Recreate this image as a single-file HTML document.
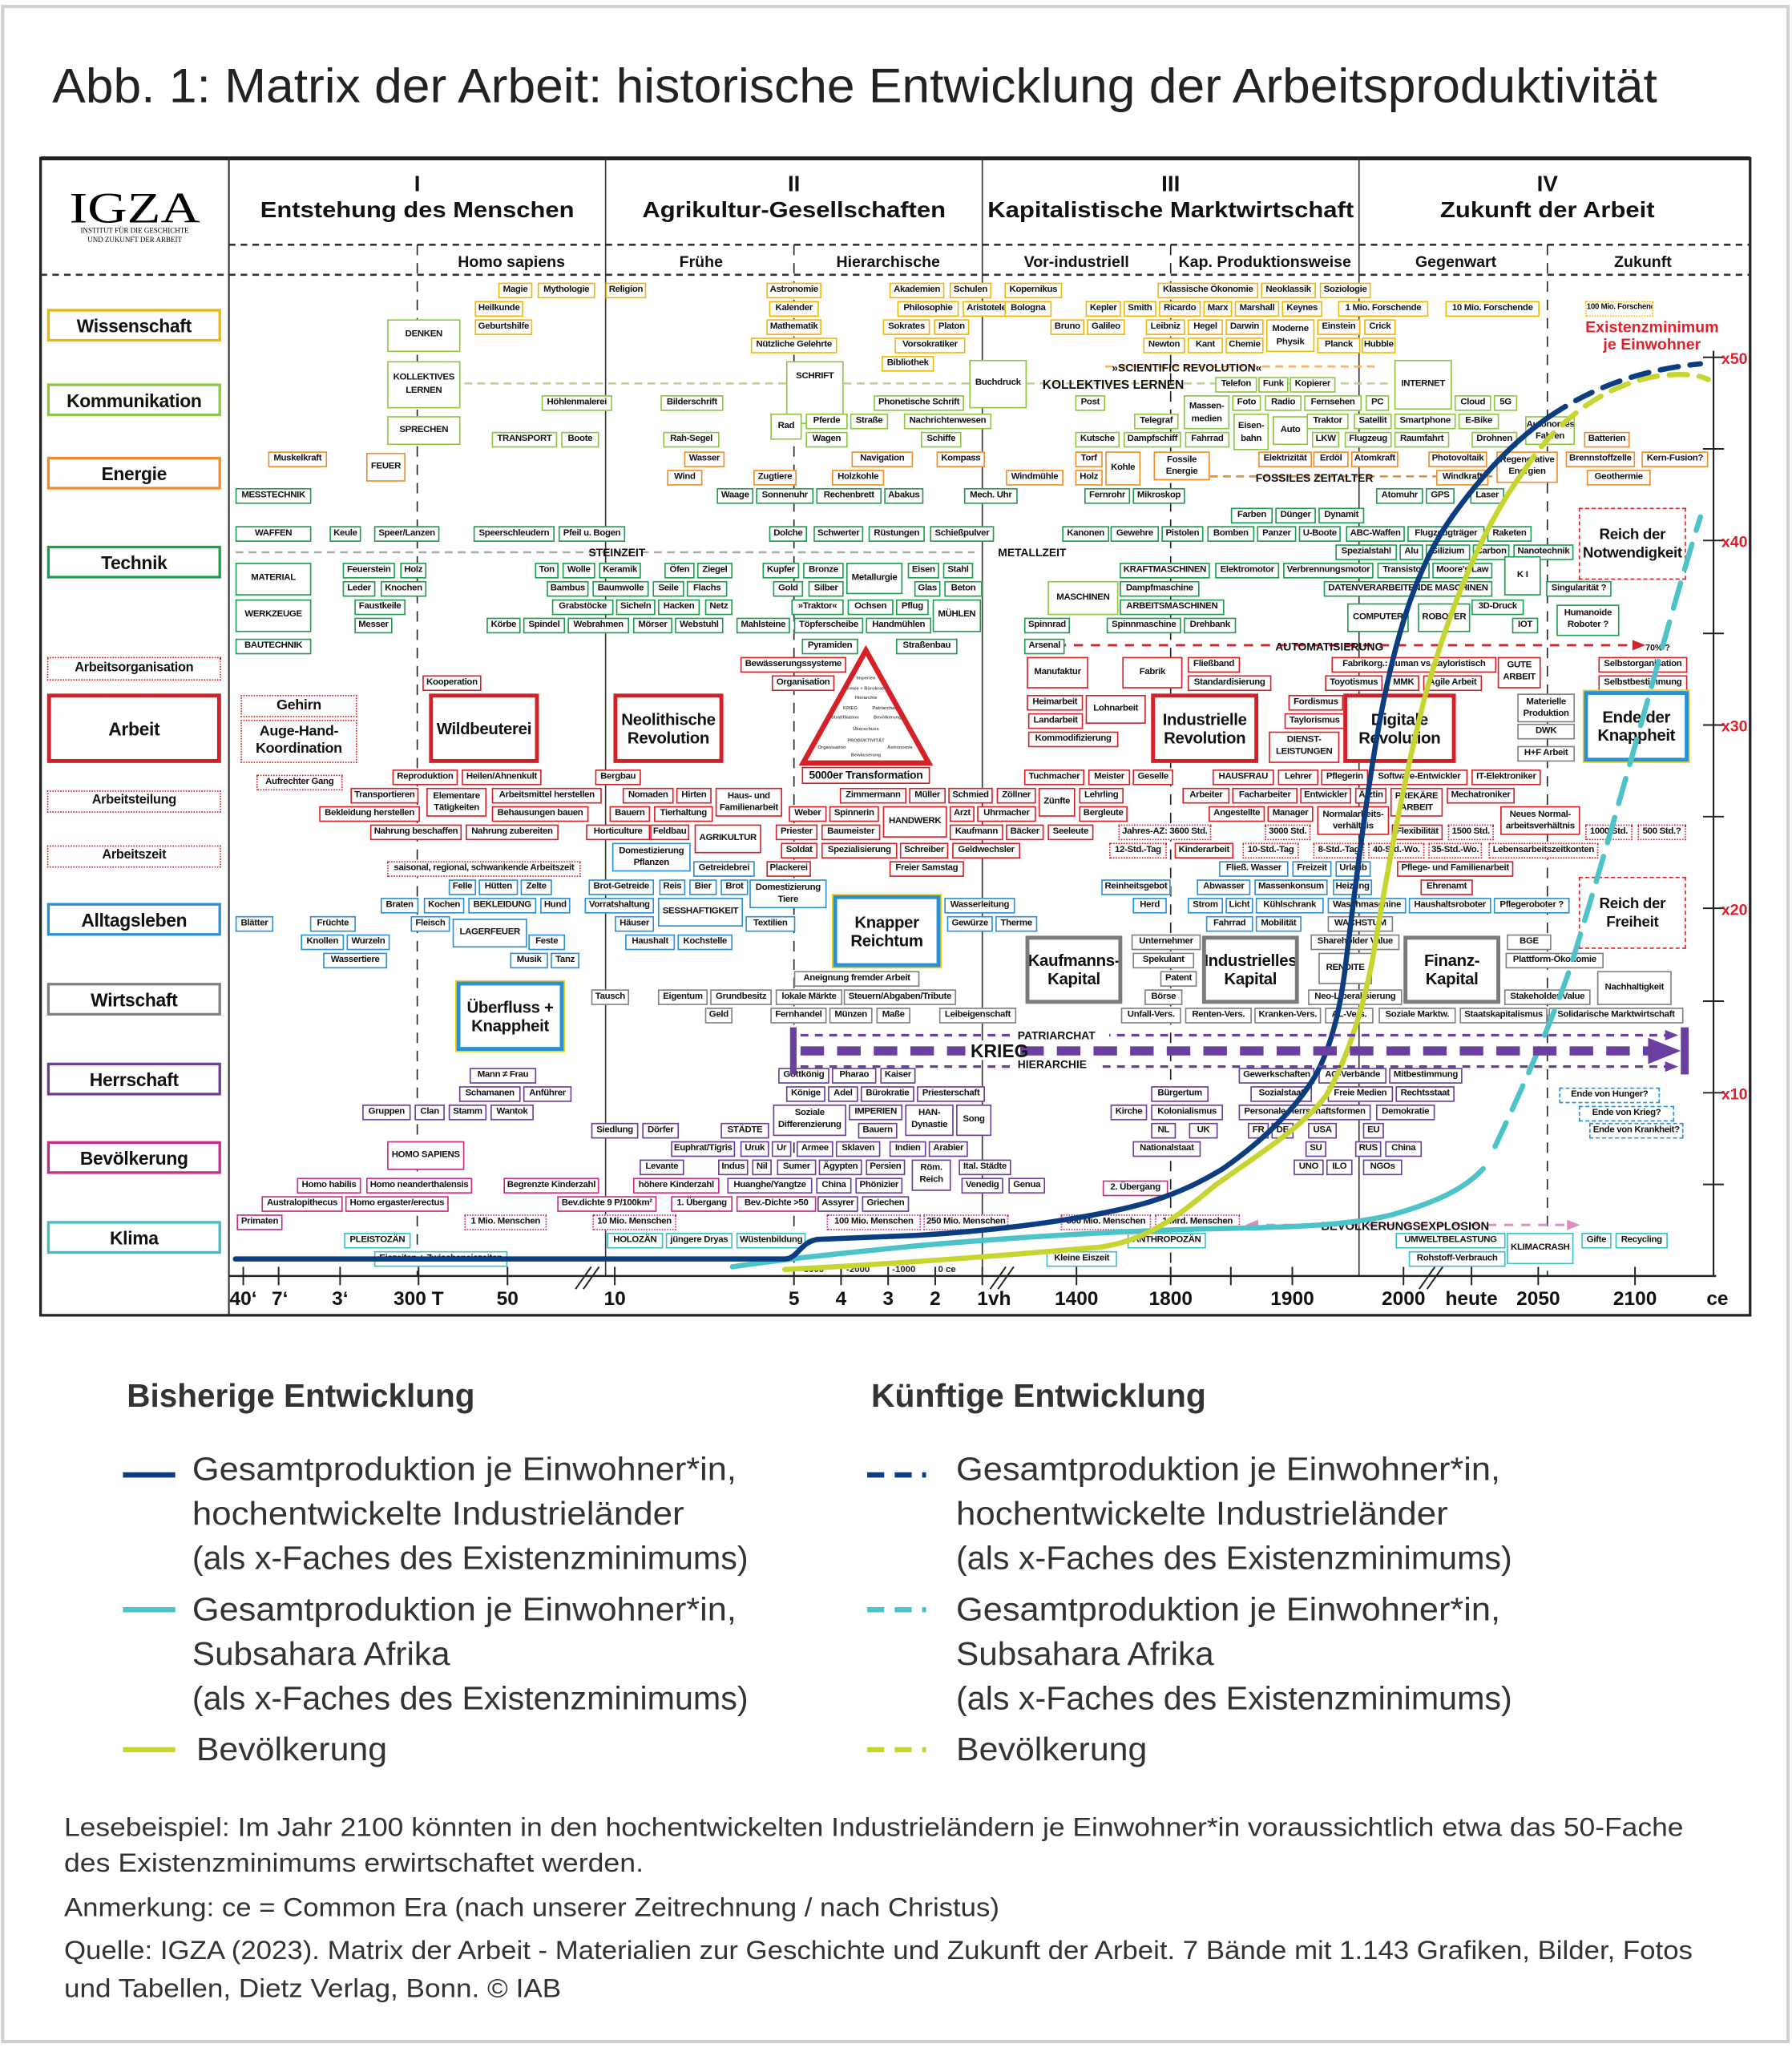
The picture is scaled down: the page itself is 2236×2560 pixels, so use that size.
<!DOCTYPE html>
<html><head><meta charset="utf-8">
<style>
html,body{margin:0;padding:0;background:#fff;}
body{width:2236px;height:2560px;overflow:hidden;position:relative;}
#s{position:absolute;left:0;top:0;width:1370px;height:1568px;transform:scale(1.6321,1.6327);transform-origin:0 0;font-family:"Liberation Sans",Arial,sans-serif;}
#s>svg{position:absolute;left:0;top:0;}
b{position:absolute;display:block;height:12px;box-sizing:border-box;border:1.3px solid #888;background:#fff;font:bold 7px/9.6px "Liberation Sans",Arial,sans-serif;text-align:center;white-space:nowrap;overflow:hidden;color:#111;letter-spacing:-0.2px;}
b.h2{height:22px;line-height:9.6px;padding-top:0.5px;}
b.h3{height:25px;line-height:22.5px;}
.o{border-color:#f2b705!important}.g{border-color:#8dc63f!important}.e{border-color:#f28c28!important}
.t{border-color:#1b9e4b!important}.r{border-color:#d62027!important}.b{border-color:#2b8fd6!important}
.w{border-color:#808080!important}.p{border-color:#6a3d9a!important}.m{border-color:#c72a84!important}
.k{border-color:#3dbfc5!important}.d{border-style:dotted!important}.x{border-style:dashed!important}
b.cat{font-size:14px;height:25px;line-height:22px;border-width:2px;left:36px;width:133px;}
b.big{font-size:12.5px;line-height:14px;border-width:3px;display:flex;align-items:center;justify-content:center;white-space:normal;}
b.gr{border-width:3px;border-color:#7a7a7a}
</style></head><body><div id="s">
<svg width="1370" height="1568" viewBox="0 0 1370 1568">
<rect x="2" y="5" width="1365" height="1555" fill="none" stroke="#d0d0d0" stroke-width="2.5"/>
<text x="40" y="78" font-size="37" fill="#222" textLength="1227" lengthAdjust="spacingAndGlyphs">Abb. 1: Matrix der Arbeit: historische Entwicklung der Arbeitsproduktivität</text>
<rect x="31" y="121" width="1307" height="884" fill="none" stroke="#222" stroke-width="2"/>
<line x1="31" y1="121" x2="1338" y2="121" stroke="#222" stroke-width="3"/>
<line x1="175" y1="121" x2="175" y2="1005" stroke="#333" stroke-width="1.3"/>
<g stroke="#333" stroke-width="1"><line x1="463" y1="121" x2="463" y2="975"/><line x1="751" y1="121" x2="751" y2="975"/><line x1="1039" y1="121" x2="1039" y2="975"/></g>
<g stroke="#333" stroke-width="1.6" stroke-dasharray="5 4"><line x1="175" y1="187" x2="1338" y2="187"/><line x1="31" y1="210" x2="1338" y2="210"/></g>
<g stroke="#222" stroke-width="1" stroke-dasharray="8 6"><line x1="319" y1="187" x2="319" y2="975"/><line x1="607" y1="187" x2="607" y2="975"/><line x1="895" y1="187" x2="895" y2="975"/><line x1="1183" y1="187" x2="1183" y2="975"/></g>
<text x="103" y="170" font-family="Liberation Serif" font-size="33" text-anchor="middle" textLength="100" lengthAdjust="spacingAndGlyphs">IGZA</text>
<text x="103" y="178" font-family="Liberation Serif" font-size="5.5" text-anchor="middle">INSTITUT FÜR DIE GESCHICHTE</text>
<text x="103" y="185" font-family="Liberation Serif" font-size="5.5" text-anchor="middle">UND ZUKUNFT DER ARBEIT</text>
<g font-weight="bold" font-size="17" text-anchor="middle" fill="#111">
<text x="319" y="146">I</text><text x="319" y="166" textLength="240" lengthAdjust="spacingAndGlyphs">Entstehung des Menschen</text>
<text x="607" y="146">II</text><text x="607" y="166" textLength="232" lengthAdjust="spacingAndGlyphs">Agrikultur-Gesellschaften</text>
<text x="895" y="146">III</text><text x="895" y="166" textLength="280" lengthAdjust="spacingAndGlyphs">Kapitalistische Marktwirtschaft</text>
<text x="1183" y="146">IV</text><text x="1183" y="166" textLength="164" lengthAdjust="spacingAndGlyphs">Zukunft der Arbeit</text>
</g>
<g font-weight="bold" font-size="12" text-anchor="middle" fill="#111">
<text x="391" y="204">Homo sapiens</text><text x="536" y="204">Frühe</text><text x="679" y="204">Hierarchische</text><text x="823" y="204">Vor-industriell</text><text x="967" y="204">Kap. Produktionsweise</text><text x="1113" y="204">Gegenwart</text><text x="1256" y="204">Zukunft</text>
</g>
<!-- axis -->
<line x1="175" y1="975" x2="1312" y2="975" stroke="#222" stroke-width="1.5"/>
<line x1="1310" y1="268" x2="1310" y2="975" stroke="#222" stroke-width="1.3"/>
<g stroke="#222" stroke-width="1.2">
<line x1="1302" y1="273" x2="1318" y2="273"/><line x1="1302" y1="343" x2="1318" y2="343"/><line x1="1302" y1="413" x2="1318" y2="413"/><line x1="1302" y1="484" x2="1318" y2="484"/><line x1="1302" y1="554" x2="1318" y2="554"/><line x1="1302" y1="624" x2="1318" y2="624"/><line x1="1302" y1="694" x2="1318" y2="694"/><line x1="1302" y1="765" x2="1318" y2="765"/><line x1="1302" y1="835" x2="1318" y2="835"/><line x1="1302" y1="905" x2="1318" y2="905"/>
<line x1="186" y1="968" x2="186" y2="982"/><line x1="213" y1="968" x2="213" y2="982"/><line x1="260" y1="968" x2="260" y2="982"/><line x1="320" y1="968" x2="320" y2="982"/><line x1="388" y1="968" x2="388" y2="982"/><line x1="470" y1="968" x2="470" y2="982"/><line x1="607" y1="968" x2="607" y2="982"/><line x1="643" y1="968" x2="643" y2="982"/><line x1="679" y1="968" x2="679" y2="982"/><line x1="715" y1="968" x2="715" y2="982"/><line x1="751" y1="968" x2="751" y2="982"/><line x1="823" y1="968" x2="823" y2="982"/><line x1="895" y1="968" x2="895" y2="982"/><line x1="941" y1="968" x2="941" y2="982"/><line x1="988" y1="968" x2="988" y2="982"/><line x1="1073" y1="968" x2="1073" y2="982"/><line x1="1125" y1="968" x2="1125" y2="982"/><line x1="1176" y1="968" x2="1176" y2="982"/><line x1="1250" y1="968" x2="1250" y2="982"/>
<line x1="440" y1="985" x2="452" y2="968"/><line x1="446" y1="985" x2="458" y2="968"/><line x1="757" y1="985" x2="769" y2="968"/><line x1="763" y1="985" x2="775" y2="968"/><line x1="1085" y1="985" x2="1097" y2="968"/><line x1="1091" y1="985" x2="1103" y2="968"/>
</g>
<g font-weight="bold" font-size="15" text-anchor="middle" fill="#111">
<text x="186" y="997">40‘</text><text x="214" y="997">7‘</text><text x="260" y="997">3‘</text><text x="320" y="997">300 T</text><text x="388" y="997">50</text><text x="470" y="997">10</text><text x="607" y="997">5</text><text x="643" y="997">4</text><text x="679" y="997">3</text><text x="715" y="997">2</text><text x="760" y="997">1vh</text><text x="823" y="997">1400</text><text x="895" y="997">1800</text><text x="988" y="997">1900</text><text x="1073" y="997">2000</text><text x="1125" y="997">heute</text><text x="1176" y="997">2050</text><text x="1250" y="997">2100</text><text x="1313" y="997">ce</text>
</g>
<g font-weight="bold" font-size="7" fill="#222" text-anchor="middle"><text x="621" y="972">-3000</text><text x="656" y="972">-2000</text><text x="691" y="972">-1000</text><text x="724" y="972">0 ce</text></g>
<g font-weight="bold" font-size="12" fill="#e0202a"><text x="1316" y="278">x50</text><text x="1316" y="418">x40</text><text x="1316" y="559">x30</text><text x="1316" y="699">x20</text><text x="1316" y="840">x10</text></g>
<g font-weight="bold" font-size="12" fill="#e0202a" text-anchor="middle"><text x="1263" y="254">Existenzminimum</text><text x="1263" y="267">je Einwohner</text></g>
<!-- dashed guide lines -->
<line x1="355" y1="293" x2="1062" y2="293" stroke="#b5d68a" stroke-width="1.6" stroke-dasharray="6 4"/>
<line x1="180" y1="422" x2="745" y2="422" stroke="#aaa" stroke-width="1.6" stroke-dasharray="6 4"/>
<line x1="845" y1="280" x2="1055" y2="280" stroke="#f7b267" stroke-width="1.6" stroke-dasharray="6 4"/>
<line x1="925" y1="364" x2="1175" y2="364" stroke="#f28c28" stroke-width="1.6" stroke-dasharray="6 4"/>
<line x1="795" y1="493" x2="1255" y2="493" stroke="#d62027" stroke-width="1.8" stroke-dasharray="7 6"/>
<polygon points="793,493 803,489 803,497" fill="#d62027"/><polygon points="1258,493 1248,489 1248,497" fill="#d62027"/>
<line x1="955" y1="936" x2="1205" y2="936" stroke="#e08cc0" stroke-width="1.8" stroke-dasharray="7 6"/>
<polygon points="952,936 962,932 962,940" fill="#e08cc0"/><polygon points="1208,936 1198,932 1198,940" fill="#e08cc0"/>
<g font-weight="bold" fill="#111" font-size="9">
<text x="797" y="297" font-size="9.5">KOLLEKTIVES LERNEN</text>
<text x="850" y="284" font-size="8.5">»SCIENTIFIC REVOLUTION«</text>
<text x="960" y="368" font-size="8.5">FOSSILES ZEITALTER</text>
<text x="450" y="425" font-size="8.5">STEINZEIT</text>
<text x="763" y="425" font-size="8.5">METALLZEIT</text>
<text x="975" y="497" font-size="8.5">AUTOMATISIERUNG</text>
<text x="1258" y="497" font-size="6.5">70% ?</text>
<text x="1010" y="940" font-size="9">BEVÖLKERUNGSEXPLOSION</text>
</g>
<!-- triangle -->
<polygon points="662,497 614,583 710,583" fill="#fff" stroke="#d62027" stroke-width="4" stroke-linejoin="miter"/>
<g font-size="3.5" font-weight="bold" fill="#555" text-anchor="middle">
<text x="662" y="519">Imperien</text><text x="662" y="527">Armee + Bürokratie</text><text x="662" y="534">Hierarchie</text><text x="650" y="542">KRIEG</text><text x="676" y="542">Patriarchat</text>
<text x="646" y="549">Stratifikation</text><text x="680" y="549">Bevölkerungs-</text><text x="662" y="558">Überschuss</text><text x="662" y="567">PRODUKTIVITÄT</text><text x="636" y="572">Organisation</text><text x="688" y="572">Astronomie</text><text x="662" y="578">Bewässerung</text>
</g>
<polygon points="623,207 628,207 628,212" fill="none"/>
</svg>

<!-- category labels -->
<b class="cat o" style="top:236px">Wissenschaft</b>
<b class="cat g" style="top:293px">Kommunikation</b>
<b class="cat e" style="top:349px">Energie</b>
<b class="cat t" style="top:417px">Technik</b>
<b class="r d" style="left:36px;top:502px;width:133px;height:18px;line-height:15px;font-size:10px">Arbeitsorganisation</b>
<b class="cat r" style="top:530px;height:53px;line-height:49px;border-width:3px;">Arbeit</b>
<b class="r d" style="left:36px;top:604px;width:133px;height:17px;line-height:14px;font-size:10px">Arbeitsteilung</b>
<b class="r d" style="left:36px;top:646px;width:133px;height:17px;line-height:14px;font-size:10px">Arbeitszeit</b>
<b class="cat b" style="top:690px">Alltagsleben</b>
<b class="cat w" style="top:751px">Wirtschaft</b>
<b class="cat p" style="top:812px">Herrschaft</b>
<b class="cat m" style="top:872px">Bevölkerung</b>
<b class="cat k" style="top:933px">Klima</b>

<!-- Wissenschaft -->
<b class="o" style="left:381px;top:216px;width:26px">Magie</b><b class="o" style="left:411px;top:216px;width:44px">Mythologie</b><b class="o" style="left:463px;top:216px;width:31px">Religion</b><b class="o" style="left:586px;top:216px;width:42px">Astronomie</b><b class="o" style="left:680px;top:216px;width:42px">Akademien</b><b class="o" style="left:726px;top:216px;width:32px">Schulen</b><b class="o" style="left:768px;top:216px;width:44px">Kopernikus</b><b class="o" style="left:885px;top:216px;width:77px">Klassische Ökonomie</b><b class="o" style="left:964px;top:216px;width:42px">Neoklassik</b><b class="o" style="left:1009px;top:216px;width:39px">Soziologie</b>
<b class="o" style="left:363px;top:230px;width:37px">Heilkunde</b><b class="o" style="left:588px;top:230px;width:38px">Kalender</b><b class="o" style="left:686px;top:230px;width:47px">Philosophie</b><b class="o" style="left:736px;top:230px;width:40px">Aristoteles</b><b class="o" style="left:768px;top:230px;width:36px">Bologna</b><b class="o" style="left:830px;top:230px;width:27px">Kepler</b><b class="o" style="left:859px;top:230px;width:25px">Smith</b><b class="o" style="left:886px;top:230px;width:32px">Ricardo</b><b class="o" style="left:920px;top:230px;width:22px">Marx</b><b class="o" style="left:944px;top:230px;width:34px">Marshall</b><b class="o" style="left:980px;top:230px;width:31px">Keynes</b><b class="o" style="left:1023px;top:230px;width:69px">1 Mio. Forschende</b><b class="o" style="left:1105px;top:230px;width:72px">10 Mio. Forschende</b><b class="o d" style="left:1212px;top:230px;width:52px;font-size:6px">100 Mio. Forschende</b>
<b class="o" style="left:363px;top:244px;width:44px">Geburtshilfe</b><b class="o" style="left:586px;top:244px;width:42px">Mathematik</b><b class="o" style="left:675px;top:244px;width:36px">Sokrates</b><b class="o" style="left:714px;top:244px;width:27px">Platon</b><b class="o" style="left:803px;top:244px;width:26px">Bruno</b><b class="o" style="left:831px;top:244px;width:29px">Galileo</b><b class="o" style="left:876px;top:244px;width:30px">Leibniz</b><b class="o" style="left:908px;top:244px;width:27px">Hegel</b><b class="o" style="left:937px;top:244px;width:29px">Darwin</b><b class="o h2" style="left:968px;top:244px;width:37px;height:25px;padding-top:2px">Moderne<br>Physik</b><b class="o" style="left:1007px;top:244px;width:33px">Einstein</b><b class="o" style="left:1043px;top:244px;width:24px">Crick</b>
<b class="o" style="left:574px;top:258px;width:66px">Nützliche Gelehrte</b><b class="o" style="left:684px;top:258px;width:54px">Vorsokratiker</b><b class="o" style="left:874px;top:258px;width:32px">Newton</b><b class="o" style="left:908px;top:258px;width:27px">Kant</b><b class="o" style="left:937px;top:258px;width:29px">Chemie</b><b class="o" style="left:1007px;top:258px;width:33px">Planck</b><b class="o" style="left:1041px;top:258px;width:26px">Hubble</b>
<b class="o" style="left:674px;top:272px;width:40px">Bibliothek</b>

<!-- Kommunikation -->
<b class="g h3" style="left:296px;top:244px;width:56px">DENKEN</b>
<b class="g h2" style="left:296px;top:276px;width:56px;height:36px;padding-top:7px">KOLLEKTIVES<br>LERNEN</b>
<b class="g" style="left:296px;top:318px;width:56px;height:22px;line-height:19px">SPRECHEN</b>
<b class="g" style="left:601px;top:276px;width:44px;height:48px;line-height:22px">SCHRIFT</b>
<b class="g" style="left:741px;top:275px;width:44px;height:37px;line-height:34px">Buchdruck</b>
<b class="g" style="left:1066px;top:275px;width:44px;height:38px;line-height:35px">INTERNET</b>
<b class="g" style="left:929px;top:288px;width:32px">Telefon</b><b class="g" style="left:962px;top:288px;width:23px">Funk</b><b class="g" style="left:986px;top:288px;width:35px">Kopierer</b>
<b class="g" style="left:414px;top:302px;width:54px">Höhlenmalerei</b><b class="g" style="left:505px;top:302px;width:48px">Bilderschrift</b><b class="g" style="left:668px;top:302px;width:69px">Phonetische Schrift</b><b class="g" style="left:822px;top:302px;width:23px">Post</b><b class="g h2" style="left:905px;top:302px;width:35px;height:26px;padding-top:3px">Massen-<br>medien</b><b class="g" style="left:942px;top:302px;width:22px">Foto</b><b class="g" style="left:967px;top:302px;width:28px">Radio</b><b class="g" style="left:997px;top:302px;width:44px">Fernsehen</b><b class="g" style="left:1044px;top:302px;width:18px">PC</b><b class="g" style="left:1112px;top:302px;width:28px">Cloud</b><b class="g" style="left:1142px;top:302px;width:18px">5G</b>
<b class="g" style="left:589px;top:316px;width:24px;height:20px;line-height:17px">Rad</b><b class="g" style="left:616px;top:316px;width:32px">Pferde</b><b class="g" style="left:650px;top:316px;width:29px">Straße</b><b class="g" style="left:691px;top:316px;width:67px">Nachrichtenwesen</b><b class="g" style="left:867px;top:316px;width:34px">Telegraf</b><b class="g h2" style="left:943px;top:316px;width:27px;height:28px;padding-top:4px">Eisen-<br>bahn</b><b class="g" style="left:973px;top:318px;width:27px;height:22px;line-height:19px">Auto</b><b class="g" style="left:999px;top:316px;width:32px">Traktor</b><b class="g" style="left:1035px;top:316px;width:29px">Satellit</b><b class="g" style="left:1066px;top:316px;width:47px">Smartphone</b><b class="g" style="left:1115px;top:316px;width:31px">E-Bike</b><b class="g h2" style="left:1166px;top:318px;width:38px">Autonomes<br>Fahren</b>
<b class="g" style="left:376px;top:330px;width:50px">TRANSPORT</b><b class="g" style="left:429px;top:330px;width:29px">Boote</b><b class="g" style="left:507px;top:330px;width:43px">Rah-Segel</b><b class="g" style="left:616px;top:330px;width:32px">Wagen</b><b class="g" style="left:704px;top:330px;width:31px">Schiffe</b><b class="g" style="left:822px;top:330px;width:34px">Kutsche</b><b class="g" style="left:859px;top:330px;width:44px">Dampfschiff</b><b class="g" style="left:906px;top:330px;width:34px">Fahrrad</b><b class="g" style="left:1003px;top:330px;width:21px">LKW</b><b class="g" style="left:1028px;top:330px;width:36px">Flugzeug</b><b class="g" style="left:1066px;top:330px;width:42px">Raumfahrt</b><b class="g" style="left:1125px;top:330px;width:35px">Drohnen</b>

<!-- Energie -->
<b class="e" style="left:205px;top:345px;width:45px">Muskelkraft</b><b class="e" style="left:280px;top:346px;width:30px;height:22px;line-height:19px">FEUER</b><b class="e" style="left:523px;top:345px;width:31px">Wasser</b><b class="e" style="left:651px;top:345px;width:47px">Navigation</b><b class="e" style="left:716px;top:345px;width:37px">Kompass</b><b class="e" style="left:822px;top:345px;width:21px">Torf</b><b class="e" style="left:845px;top:345px;width:27px;height:26px;line-height:23px">Kohle</b><b class="e h2" style="left:882px;top:345px;width:43px">Fossile<br>Energie</b><b class="e" style="left:962px;top:345px;width:41px">Elektrizität</b><b class="e" style="left:1004px;top:345px;width:27px">Erdöl</b><b class="e" style="left:1033px;top:345px;width:36px">Atomkraft</b><b class="e" style="left:1092px;top:345px;width:45px">Photovoltaik</b><b class="e h2" style="left:1144px;top:345px;width:47px;height:24px">Regenerative<br>Energien</b><b class="e" style="left:1211px;top:330px;width:35px">Batterien</b><b class="e" style="left:1197px;top:345px;width:53px">Brennstoffzelle</b><b class="e" style="left:1255px;top:345px;width:51px">Kern-Fusion?</b>
<b class="e" style="left:510px;top:359px;width:27px">Wind</b><b class="e" style="left:576px;top:359px;width:33px">Zugtiere</b><b class="e" style="left:636px;top:359px;width:40px">Holzkohle</b><b class="e" style="left:769px;top:359px;width:44px">Windmühle</b><b class="e" style="left:822px;top:359px;width:21px">Holz</b><b class="e" style="left:1098px;top:359px;width:40px">Windkraft</b><b class="e" style="left:1213px;top:359px;width:49px">Geothermie</b>

<!-- Technik -->
<b class="t" style="left:180px;top:373px;width:58px">MESSTECHNIK</b><b class="t" style="left:548px;top:373px;width:28px">Waage</b><b class="t" style="left:578px;top:373px;width:44px">Sonnenuhr</b><b class="t" style="left:624px;top:373px;width:50px">Rechenbrett</b><b class="t" style="left:676px;top:373px;width:30px">Abakus</b><b class="t" style="left:737px;top:373px;width:41px">Mech. Uhr</b><b class="t" style="left:829px;top:373px;width:35px">Fernrohr</b><b class="t" style="left:866px;top:373px;width:40px">Mikroskop</b><b class="t" style="left:1052px;top:373px;width:36px">Atomuhr</b><b class="t" style="left:1090px;top:373px;width:22px">GPS</b><b class="t" style="left:1124px;top:373px;width:26px">Laser</b>
<b class="t" style="left:941px;top:388px;width:32px">Farben</b><b class="t" style="left:975px;top:388px;width:31px">Dünger</b><b class="t" style="left:1008px;top:388px;width:35px">Dynamit</b>
<b class="t" style="left:180px;top:402px;width:58px">WAFFEN</b><b class="t" style="left:252px;top:402px;width:24px">Keule</b><b class="t" style="left:286px;top:402px;width:50px">Speer/Lanzen</b><b class="t" style="left:362px;top:402px;width:62px">Speerschleudern</b><b class="t" style="left:427px;top:402px;width:51px">Pfeil u. Bogen</b><b class="t" style="left:588px;top:402px;width:29px">Dolche</b><b class="t" style="left:622px;top:402px;width:38px">Schwerter</b><b class="t" style="left:664px;top:402px;width:43px">Rüstungen</b><b class="t" style="left:711px;top:402px;width:49px">Schießpulver</b><b class="t" style="left:812px;top:402px;width:36px">Kanonen</b><b class="t" style="left:849px;top:402px;width:37px">Gewehre</b><b class="t" style="left:888px;top:402px;width:32px">Pistolen</b><b class="t" style="left:923px;top:402px;width:36px">Bomben</b><b class="t" style="left:961px;top:402px;width:30px">Panzer</b><b class="t" style="left:993px;top:402px;width:32px">U-Boote</b><b class="t" style="left:1029px;top:402px;width:45px">ABC-Waffen</b><b class="t" style="left:1076px;top:402px;width:59px">Flugzeugträger</b><b class="t" style="left:1137px;top:402px;width:34px">Raketen</b>
<b class="t" style="left:1021px;top:416px;width:47px">Spezialstahl</b><b class="t" style="left:1070px;top:416px;width:18px">Alu</b><b class="t" style="left:1090px;top:416px;width:34px">Silizium</b><b class="t" style="left:1126px;top:416px;width:28px">Carbon</b><b class="t" style="left:1157px;top:416px;width:46px">Nanotechnik</b>
<b class="t" style="left:180px;top:430px;width:58px;height:25px;line-height:22px">MATERIAL</b><b class="t" style="left:262px;top:430px;width:40px">Feuerstein</b><b class="t" style="left:306px;top:430px;width:20px">Holz</b><b class="t" style="left:409px;top:430px;width:18px">Ton</b><b class="t" style="left:430px;top:430px;width:25px">Wolle</b><b class="t" style="left:458px;top:430px;width:32px">Keramik</b><b class="t" style="left:508px;top:430px;width:23px">Öfen</b><b class="t" style="left:533px;top:430px;width:27px">Ziegel</b><b class="t" style="left:583px;top:430px;width:28px">Kupfer</b><b class="t" style="left:614px;top:430px;width:31px">Bronze</b><b class="t" style="left:647px;top:430px;width:43px;height:24px;line-height:21px">Metallurgie</b><b class="t" style="left:694px;top:430px;width:24px">Eisen</b><b class="t" style="left:721px;top:430px;width:23px">Stahl</b><b class="t" style="left:856px;top:430px;width:69px">KRAFTMASCHINEN</b><b class="t" style="left:929px;top:430px;width:49px">Elektromotor</b><b class="t" style="left:981px;top:430px;width:69px">Verbrennungsmotor</b><b class="t" style="left:1053px;top:430px;width:40px">Transistor</b><b class="t" style="left:1095px;top:430px;width:46px">Moore's Law</b><b class="t" style="left:1150px;top:425px;width:28px;height:30px;line-height:27px">K I</b>
<b class="t" style="left:262px;top:444px;width:25px">Leder</b><b class="t" style="left:291px;top:444px;width:35px">Knochen</b><b class="t" style="left:418px;top:444px;width:32px">Bambus</b><b class="t" style="left:453px;top:444px;width:43px">Baumwolle</b><b class="t" style="left:499px;top:444px;width:24px">Seile</b><b class="t" style="left:525px;top:444px;width:31px">Flachs</b><b class="t" style="left:591px;top:444px;width:23px">Gold</b><b class="t" style="left:618px;top:444px;width:27px">Silber</b><b class="t" style="left:699px;top:444px;width:20px">Glas</b><b class="t" style="left:722px;top:444px;width:29px">Beton</b><b class="g" style="left:801px;top:444px;width:54px;height:26px;line-height:23px">MASCHINEN</b><b class="t" style="left:856px;top:444px;width:61px">Dampfmaschine</b><b class="t" style="left:1012px;top:444px;width:129px">DATENVERARBEITENDE MASCHINEN</b><b class="t" style="left:1182px;top:444px;width:50px">Singularität ?</b>
<b class="t" style="left:180px;top:458px;width:58px;height:25px;line-height:22px">WERKZEUGE</b><b class="t" style="left:271px;top:458px;width:39px">Faustkeile</b><b class="t" style="left:422px;top:458px;width:47px">Grabstöcke</b><b class="t" style="left:471px;top:458px;width:30px">Sicheln</b><b class="t" style="left:503px;top:458px;width:32px">Hacken</b><b class="t" style="left:539px;top:458px;width:21px">Netz</b><b class="t" style="left:605px;top:458px;width:40px">»Traktor«</b><b class="t" style="left:648px;top:458px;width:35px">Ochsen</b><b class="t" style="left:685px;top:458px;width:25px">Pflug</b><b class="t" style="left:713px;top:458px;width:37px;height:25px;line-height:22px">MÜHLEN</b><b class="t" style="left:856px;top:458px;width:80px">ARBEITSMASCHINEN</b><b class="t" style="left:1125px;top:458px;width:40px">3D-Druck</b>
<b class="t" style="left:271px;top:472px;width:29px">Messer</b><b class="t" style="left:372px;top:472px;width:26px">Körbe</b><b class="t" style="left:400px;top:472px;width:32px">Spindel</b><b class="t" style="left:434px;top:472px;width:47px">Webrahmen</b><b class="t" style="left:484px;top:472px;width:30px">Mörser</b><b class="t" style="left:516px;top:472px;width:37px">Webstuhl</b><b class="t" style="left:563px;top:472px;width:41px">Mahlsteine</b><b class="t" style="left:607px;top:472px;width:53px">Töpferscheibe</b><b class="t" style="left:662px;top:472px;width:50px">Handmühlen</b><b class="t" style="left:783px;top:472px;width:35px">Spinnrad</b><b class="t" style="left:846px;top:472px;width:57px">Spinnmaschine</b><b class="t" style="left:905px;top:472px;width:40px">Drehbank</b><b class="t" style="left:1030px;top:461px;width:47px;height:22px;line-height:19px">COMPUTER</b><b class="t" style="left:1084px;top:461px;width:40px;height:22px;line-height:19px">ROBOTER</b><b class="t" style="left:1156px;top:472px;width:20px">IOT</b><b class="t h2" style="left:1190px;top:462px;width:48px;height:24px">Humanoide<br>Roboter ?</b>
<b class="t" style="left:180px;top:488px;width:58px">BAUTECHNIK</b><b class="t" style="left:613px;top:488px;width:43px">Pyramiden</b><b class="t" style="left:685px;top:488px;width:47px">Straßenbau</b><b class="t" style="left:783px;top:488px;width:31px">Arsenal</b>

<!-- Arbeit -->
<b class="r" style="left:566px;top:502px;width:81px">Bewässerungssysteme</b><b class="r" style="left:908px;top:502px;width:40px">Fließband</b><b class="r" style="left:1018px;top:502px;width:126px">Fabrikorg.: human vs. tayloristisch</b><b class="r h2" style="left:1145px;top:502px;width:33px;height:24px">GUTE<br>ARBEIT</b><b class="r" style="left:1222px;top:502px;width:68px">Selbstorganisation</b>
<b class="r" style="left:785px;top:502px;width:47px;height:24px;line-height:21px">Manufaktur</b><b class="r" style="left:858px;top:502px;width:46px;height:24px;line-height:21px">Fabrik</b>
<b class="r" style="left:323px;top:516px;width:45px">Kooperation</b><b class="r" style="left:590px;top:516px;width:48px">Organisation</b><b class="r" style="left:908px;top:516px;width:64px">Standardisierung</b><b class="r" style="left:1013px;top:516px;width:44px">Toyotismus</b><b class="r" style="left:1061px;top:516px;width:24px">MMK</b><b class="r" style="left:1088px;top:516px;width:45px">Agile Arbeit</b><b class="r" style="left:1222px;top:516px;width:68px">Selbstbestimmung</b>
<b class="r" style="left:785px;top:531px;width:43px">Heimarbeit</b><b class="r" style="left:830px;top:531px;width:46px;height:22px;line-height:19px">Lohnarbeit</b><b class="r" style="left:985px;top:531px;width:42px">Fordismus</b><b class="w h2" style="left:1160px;top:530px;width:44px">Materielle<br>Produktion</b>
<b class="r" style="left:786px;top:545px;width:42px">Landarbeit</b><b class="r" style="left:982px;top:545px;width:46px">Taylorismus</b><b class="w" style="left:1160px;top:553px;width:44px">DWK</b>
<b class="r" style="left:786px;top:559px;width:69px">Kommodifizierung</b><b class="r h2" style="left:970px;top:559px;width:54px;height:24px">DIENST-<br>LEISTUNGEN</b><b class="w" style="left:1160px;top:570px;width:44px">H+F Arbeit</b>
<b class="r d" style="left:196px;top:592px;width:66px">Aufrechter Gang</b>
<b class="r d" style="left:184px;top:531px;width:89px;height:17px;line-height:14px;font-size:11px">Gehirn</b>
<b class="r d h2" style="left:184px;top:550px;width:89px;height:33px;font-size:11px;line-height:13px;padding-top:2px">Auge-Hand-<br>Koordination</b>
<b class="r big" style="left:328px;top:530px;width:84px;height:53px">Wildbeuterei</b>
<b class="r big" style="left:469px;top:530px;width:84px;height:53px">Neolithische Revolution</b>
<b class="r big" style="left:880px;top:530px;width:82px;height:53px">Industrielle Revolution</b>
<b class="r big" style="left:1027px;top:530px;width:86px;height:53px">Digitale Revolution</b>
<b class="b big" style="left:1211px;top:528px;width:80px;height:54px;outline:1.5px solid #f2d300">Ende der Knappheit</b>
<b class="r" style="left:613px;top:586px;width:98px;height:13px;font-size:8.5px;line-height:10px">5000er Transformation</b>
<b class="r" style="left:300px;top:588px;width:50px">Reproduktion</b><b class="r" style="left:353px;top:588px;width:61px">Heilen/Ahnenkult</b><b class="r" style="left:455px;top:588px;width:35px">Bergbau</b><b class="r" style="left:783px;top:588px;width:46px">Tuchmacher</b><b class="r" style="left:832px;top:588px;width:32px">Meister</b><b class="r" style="left:866px;top:588px;width:31px">Geselle</b><b class="r" style="left:927px;top:588px;width:47px">HAUSFRAU</b><b class="r" style="left:977px;top:588px;width:31px">Lehrer</b><b class="r" style="left:1010px;top:588px;width:36px">Pflegerin</b><b class="r" style="left:1048px;top:588px;width:74px">Software-Entwickler</b><b class="r" style="left:1125px;top:588px;width:53px">IT-Elektroniker</b>
<b class="r" style="left:268px;top:602px;width:52px">Transportieren</b><b class="r h2" style="left:326px;top:602px;width:46px">Elementare<br>Tätigkeiten</b><b class="r" style="left:376px;top:602px;width:84px">Arbeitsmittel herstellen</b><b class="r" style="left:476px;top:602px;width:39px">Nomaden</b><b class="r" style="left:517px;top:602px;width:27px">Hirten</b><b class="r h2" style="left:547px;top:602px;width:51px">Haus- und<br>Familienarbeit</b><b class="r" style="left:642px;top:602px;width:51px">Zimmermann</b><b class="r" style="left:695px;top:602px;width:28px">Müller</b><b class="r" style="left:725px;top:602px;width:34px">Schmied</b><b class="r" style="left:762px;top:602px;width:30px">Zöllner</b><b class="r" style="left:794px;top:602px;width:28px;height:22px;line-height:19px">Zünfte</b><b class="r" style="left:825px;top:602px;width:34px">Lehrling</b><b class="r" style="left:904px;top:602px;width:36px">Arbeiter</b><b class="r" style="left:942px;top:602px;width:50px">Facharbeiter</b><b class="r" style="left:994px;top:602px;width:39px">Entwickler</b><b class="r" style="left:1036px;top:602px;width:24px">Ärztin</b><b class="r h2" style="left:1063px;top:602px;width:40px">PREKÄRE<br>ARBEIT</b><b class="r" style="left:1106px;top:602px;width:52px">Mechatroniker</b>
<b class="r" style="left:244px;top:616px;width:77px">Bekleidung herstellen</b><b class="r" style="left:376px;top:616px;width:74px">Behausungen bauen</b><b class="r" style="left:466px;top:616px;width:31px">Bauern</b><b class="r" style="left:500px;top:616px;width:45px">Tierhaltung</b><b class="r" style="left:603px;top:616px;width:29px">Weber</b><b class="r" style="left:634px;top:616px;width:38px">Spinnerin</b><b class="r" style="left:675px;top:616px;width:49px;height:24px;line-height:21px">HANDWERK</b><b class="r" style="left:726px;top:616px;width:19px">Arzt</b><b class="r" style="left:747px;top:616px;width:45px">Uhrmacher</b><b class="r" style="left:825px;top:616px;width:37px">Bergleute</b><b class="r" style="left:924px;top:616px;width:43px">Angestellte</b><b class="r" style="left:969px;top:616px;width:35px">Manager</b><b class="r h2" style="left:1007px;top:616px;width:55px">Normalarbeits-<br>verhältnis</b><b class="r h2" style="left:1147px;top:616px;width:61px">Neues Normal-<br>arbeitsverhältnis</b>
<b class="r" style="left:283px;top:630px;width:70px">Nahrung beschaffen</b><b class="r" style="left:356px;top:630px;width:71px">Nahrung zubereiten</b><b class="r" style="left:448px;top:630px;width:49px">Horticulture</b><b class="r" style="left:497px;top:630px;width:30px">Feldbau</b><b class="r" style="left:531px;top:630px;width:51px;height:22px;line-height:19px">AGRIKULTUR</b><b class="r" style="left:593px;top:630px;width:32px">Priester</b><b class="r" style="left:628px;top:630px;width:45px">Baumeister</b><b class="r" style="left:726px;top:630px;width:41px">Kaufmann</b><b class="r" style="left:769px;top:630px;width:29px">Bäcker</b><b class="r" style="left:801px;top:630px;width:35px">Seeleute</b><b class="r d" style="left:855px;top:630px;width:71px">Jahres-AZ: 3600 Std.</b><b class="r d" style="left:967px;top:630px;width:35px">3000 Std.</b><b class="r" style="left:1064px;top:630px;width:39px">Flexibilität</b><b class="r d" style="left:1107px;top:630px;width:35px">1500 Std.</b><b class="r d" style="left:1212px;top:630px;width:36px">1000 Std.</b><b class="r d" style="left:1252px;top:630px;width:37px">500 Std.?</b>
<b class="b h2" style="left:468px;top:644px;width:60px">Domestizierung<br>Pflanzen</b><b class="r" style="left:597px;top:644px;width:28px">Soldat</b><b class="r" style="left:628px;top:644px;width:58px">Spezialisierung</b><b class="r" style="left:688px;top:644px;width:37px">Schreiber</b><b class="r" style="left:728px;top:644px;width:52px">Geldwechsler</b><b class="r d" style="left:848px;top:644px;width:44px">12-Std.-Tag</b><b class="r" style="left:898px;top:644px;width:45px">Kinderarbeit</b><b class="r d" style="left:950px;top:644px;width:43px">10-Std.-Tag</b><b class="r d" style="left:1004px;top:644px;width:39px">8-Std.-Tag</b><b class="r d" style="left:1046px;top:644px;width:43px">40-Std.-Wo.</b><b class="r d" style="left:1092px;top:644px;width:41px">35-Std.-Wo.</b><b class="r d" style="left:1138px;top:644px;width:84px">Lebensarbeitszeitkonten</b>
<b class="r d" style="left:296px;top:658px;width:148px">saisonal, regional, schwankende Arbeitszeit</b><b class="b" style="left:530px;top:658px;width:47px">Getreidebrei</b><b class="r" style="left:586px;top:658px;width:34px">Plackerei</b><b class="r" style="left:680px;top:658px;width:57px">Freier Samstag</b><b class="b" style="left:932px;top:658px;width:53px">Fließ. Wasser</b><b class="b" style="left:988px;top:658px;width:30px">Freizeit</b><b class="b" style="left:1021px;top:658px;width:27px">Urlaub</b><b class="r" style="left:1068px;top:658px;width:89px">Pflege- und Familienarbeit</b>

<!-- Alltagsleben -->
<b class="b" style="left:343px;top:672px;width:21px">Felle</b><b class="b" style="left:366px;top:672px;width:30px">Hütten</b><b class="b" style="left:398px;top:672px;width:24px">Zelte</b><b class="b" style="left:450px;top:672px;width:50px">Brot-Getreide</b><b class="b" style="left:504px;top:672px;width:20px">Reis</b><b class="b" style="left:527px;top:672px;width:21px">Bier</b><b class="b" style="left:551px;top:672px;width:21px">Brot</b><b class="b h2" style="left:573px;top:672px;width:59px">Domestizierung<br>Tiere</b><b class="b" style="left:842px;top:672px;width:53px">Reinheitsgebot</b><b class="b" style="left:915px;top:672px;width:41px">Abwasser</b><b class="b" style="left:959px;top:672px;width:56px">Massenkonsum</b><b class="b" style="left:1019px;top:672px;width:30px">Heizung</b><b class="r" style="left:1086px;top:672px;width:40px">Ehrenamt</b>
<b class="b" style="left:291px;top:686px;width:29px">Braten</b><b class="b" style="left:324px;top:686px;width:31px">Kochen</b><b class="b" style="left:358px;top:686px;width:52px">BEKLEIDUNG</b><b class="b" style="left:413px;top:686px;width:23px">Hund</b><b class="b" style="left:447px;top:686px;width:53px">Vorratshaltung</b><b class="b" style="left:503px;top:686px;width:65px;height:22px;line-height:19px">SESSHAFTIGKEIT</b><b class="b" style="left:722px;top:686px;width:54px">Wasserleitung</b><b class="b" style="left:866px;top:686px;width:26px">Herd</b><b class="b" style="left:908px;top:686px;width:27px">Strom</b><b class="b" style="left:937px;top:686px;width:21px">Licht</b><b class="b" style="left:960px;top:686px;width:52px">Kühlschrank</b><b class="b" style="left:1015px;top:686px;width:60px">Waschmaschine</b><b class="b" style="left:1077px;top:686px;width:63px">Haushaltsroboter</b><b class="b" style="left:1142px;top:686px;width:58px">Pflegeroboter ?</b>
<b class="b" style="left:180px;top:700px;width:29px">Blätter</b><b class="b" style="left:237px;top:700px;width:35px">Früchte</b><b class="b" style="left:314px;top:700px;width:30px">Fleisch</b><b class="b" style="left:346px;top:702px;width:57px;height:22px;line-height:19px">LAGERFEUER</b><b class="b" style="left:470px;top:700px;width:30px">Häuser</b><b class="b" style="left:570px;top:700px;width:38px">Textilien</b><b class="b" style="left:724px;top:700px;width:35px">Gewürze</b><b class="b" style="left:761px;top:700px;width:32px">Therme</b><b class="b" style="left:922px;top:700px;width:36px">Fahrrad</b><b class="b" style="left:960px;top:700px;width:35px">Mobilität</b><b class="w" style="left:1015px;top:700px;width:50px">WACHSTUM</b>
<b class="b" style="left:230px;top:714px;width:33px">Knollen</b><b class="b" style="left:265px;top:714px;width:33px">Wurzeln</b><b class="b" style="left:404px;top:714px;width:28px">Feste</b><b class="b" style="left:478px;top:714px;width:38px">Haushalt</b><b class="b" style="left:518px;top:714px;width:42px">Kochstelle</b><b class="w" style="left:865px;top:714px;width:53px">Unternehmer</b><b class="w" style="left:1002px;top:714px;width:68px">Shareholder Value</b><b class="w" style="left:1152px;top:714px;width:34px">BGE</b>
<b class="b" style="left:247px;top:728px;width:49px">Wassertiere</b><b class="b" style="left:390px;top:728px;width:29px">Musik</b><b class="b" style="left:421px;top:728px;width:22px">Tanz</b><b class="w" style="left:866px;top:728px;width:47px">Spekulant</b><b class="w" style="left:1008px;top:728px;width:41px;height:24px;line-height:21px">RENDITE</b><b class="w" style="left:1151px;top:728px;width:75px">Plattform-Ökonomie</b>
<b class="b big" style="left:637px;top:684px;width:82px;height:55px;outline:1.5px solid #f2d300">Knapper Reichtum</b>
<b class="b big" style="left:349px;top:750px;width:82px;height:53px;outline:1.5px solid #f2d300">Überfluss + Knappheit</b>
<b class="r x big" style="left:1207px;top:388px;width:82px;height:55px;border-width:1.5px;font-size:11.5px">Reich der Notwendigkeit</b>
<b class="r x big" style="left:1207px;top:670px;width:82px;height:55px;border-width:1.5px;font-size:11.5px">Reich der Freiheit</b>

<!-- Wirtschaft -->
<b class="gr big" style="left:784px;top:715px;width:74px;height:52px">Kaufmanns-Kapital</b>
<b class="gr big" style="left:919px;top:715px;width:74px;height:52px">Industrielles Kapital</b>
<b class="gr big" style="left:1073px;top:715px;width:74px;height:52px">Finanz-Kapital</b>
<b class="w" style="left:607px;top:742px;width:96px">Aneignung fremder Arbeit</b><b class="w" style="left:887px;top:742px;width:28px">Patent</b><b class="w" style="left:1221px;top:742px;width:57px;height:26px;line-height:23px">Nachhaltigkeit</b>
<b class="w" style="left:452px;top:756px;width:29px">Tausch</b><b class="w" style="left:503px;top:756px;width:38px">Eigentum</b><b class="w" style="left:543px;top:756px;width:47px">Grundbesitz</b><b class="w" style="left:593px;top:756px;width:51px">lokale Märkte</b><b class="w" style="left:645px;top:756px;width:86px">Steuern/Abgaben/Tribute</b><b class="w" style="left:875px;top:756px;width:29px">Börse</b><b class="w" style="left:1000px;top:756px;width:72px">Neo-Liberalisierung</b><b class="w" style="left:1150px;top:756px;width:66px">Stakeholder Value</b>
<b class="w" style="left:539px;top:770px;width:21px">Geld</b><b class="w" style="left:589px;top:770px;width:43px">Fernhandel</b><b class="w" style="left:634px;top:770px;width:33px">Münzen</b><b class="w" style="left:670px;top:770px;width:26px">Maße</b><b class="w" style="left:718px;top:770px;width:59px">Leibeigenschaft</b><b class="w" style="left:857px;top:770px;width:46px">Unfall-Vers.</b><b class="w" style="left:906px;top:770px;width:51px">Renten-Vers.</b><b class="w" style="left:959px;top:770px;width:51px">Kranken-Vers.</b><b class="w" style="left:1013px;top:770px;width:37px">AL-Vers.</b><b class="w" style="left:1054px;top:770px;width:59px">Soziale Marktw.</b><b class="w" style="left:1116px;top:770px;width:67px">Staatskapitalismus</b><b class="w" style="left:1184px;top:770px;width:103px">Solidarische Marktwirtschaft</b>

<!-- Herrschaft -->
<b class="p" style="left:359px;top:816px;width:51px">Mann ≠ Frau</b><b class="p" style="left:595px;top:816px;width:39px">Gottkönig</b><b class="p" style="left:636px;top:816px;width:34px">Pharao</b><b class="p" style="left:673px;top:816px;width:27px">Kaiser</b><b class="p" style="left:947px;top:816px;width:58px">Gewerkschaften</b><b class="p" style="left:1008px;top:816px;width:52px">AG-Verbände</b><b class="p" style="left:1062px;top:816px;width:56px">Mitbestimmung</b>
<b class="p" style="left:351px;top:830px;width:47px">Schamanen</b><b class="p" style="left:400px;top:830px;width:37px">Anführer</b><b class="p" style="left:601px;top:830px;width:30px">Könige</b><b class="p" style="left:633px;top:830px;width:23px">Adel</b><b class="p" style="left:658px;top:830px;width:41px">Bürokratie</b><b class="p" style="left:701px;top:830px;width:52px">Priesterschaft</b><b class="p" style="left:880px;top:830px;width:44px">Bürgertum</b><b class="p" style="left:956px;top:830px;width:47px">Sozialstaat</b><b class="p" style="left:1015px;top:830px;width:50px">Freie Medien</b><b class="p" style="left:1067px;top:830px;width:45px">Rechtsstaat</b>
<b class="x" style="left:1192px;top:831px;width:77px;border-color:#2b8fd6">Ende von Hunger?</b><b class="x" style="left:1207px;top:845px;width:73px;border-color:#2b8fd6">Ende von Krieg?</b><b class="x" style="left:1215px;top:858px;width:72px;border-color:#2b8fd6">Ende von Krankheit?</b>
<b class="p" style="left:277px;top:844px;width:37px">Gruppen</b><b class="p" style="left:317px;top:844px;width:23px">Clan</b><b class="p" style="left:343px;top:844px;width:29px">Stamm</b><b class="p" style="left:375px;top:844px;width:33px">Wantok</b><b class="p h2" style="left:591px;top:844px;width:56px;height:24px">Soziale<br>Differenzierung</b><b class="p" style="left:649px;top:844px;width:41px">IMPERIEN</b><b class="p h2" style="left:692px;top:844px;width:37px;height:24px">HAN-<br>Dynastie</b><b class="p" style="left:731px;top:844px;width:27px;height:24px;line-height:21px">Song</b><b class="p" style="left:849px;top:844px;width:28px">Kirche</b><b class="p" style="left:880px;top:844px;width:55px">Kolonialismus</b><b class="p" style="left:947px;top:844px;width:101px">Personale Herrschaftsformen</b><b class="p" style="left:1052px;top:844px;width:45px">Demokratie</b>
<b class="p" style="left:452px;top:858px;width:36px">Siedlung</b><b class="p" style="left:491px;top:858px;width:28px">Dörfer</b><b class="p" style="left:551px;top:858px;width:37px">STÄDTE</b><b class="p" style="left:656px;top:858px;width:30px">Bauern</b><b class="p" style="left:880px;top:858px;width:19px">NL</b><b class="p" style="left:909px;top:858px;width:22px">UK</b><b class="p" style="left:954px;top:858px;width:16px">FR</b><b class="p" style="left:972px;top:858px;width:17px">DE</b><b class="p" style="left:1000px;top:858px;width:22px">USA</b><b class="p" style="left:1042px;top:858px;width:16px">EU</b>
<b class="m" style="left:296px;top:872px;width:59px;height:22px;line-height:19px">HOMO SAPIENS</b><b class="p" style="left:513px;top:872px;width:49px">Euphrat/Tigris</b><b class="p" style="left:566px;top:872px;width:22px">Uruk</b><b class="p" style="left:590px;top:872px;width:15px">Ur</b><b class="p" style="left:609px;top:872px;width:28px">Armee</b><b class="p" style="left:639px;top:872px;width:34px">Sklaven</b><b class="p" style="left:680px;top:872px;width:28px">Indien</b><b class="p" style="left:710px;top:872px;width:30px">Arabier</b><b class="p" style="left:866px;top:872px;width:52px">Nationalstaat</b><b class="p" style="left:998px;top:872px;width:16px">SU</b><b class="p" style="left:1036px;top:872px;width:20px">RUS</b><b class="p" style="left:1059px;top:872px;width:28px">China</b>
<b class="p" style="left:489px;top:886px;width:34px">Levante</b><b class="p" style="left:549px;top:886px;width:23px">Indus</b><b class="p" style="left:575px;top:886px;width:15px">Nil</b><b class="p" style="left:594px;top:886px;width:30px">Sumer</b><b class="p" style="left:626px;top:886px;width:33px">Ägypten</b><b class="p" style="left:662px;top:886px;width:30px">Persien</b><b class="p h2" style="left:697px;top:886px;width:30px;height:24px">Röm.<br>Reich</b><b class="p" style="left:733px;top:886px;width:40px">Ital. Städte</b><b class="p" style="left:989px;top:886px;width:23px">UNO</b><b class="p" style="left:1014px;top:886px;width:20px">ILO</b><b class="p" style="left:1042px;top:886px;width:30px">NGOs</b>
<b class="m" style="left:227px;top:900px;width:49px">Homo habilis</b><b class="m" style="left:280px;top:900px;width:81px">Homo neanderthalensis</b><b class="m" style="left:385px;top:900px;width:73px">Begrenzte Kinderzahl</b><b class="m" style="left:484px;top:900px;width:66px">höhere Kinderzahl</b><b class="p" style="left:556px;top:900px;width:65px">Huanghe/Yangtze</b><b class="p" style="left:624px;top:900px;width:27px">China</b><b class="p" style="left:654px;top:900px;width:36px">Phönizier</b><b class="p" style="left:735px;top:900px;width:32px">Venedig</b><b class="p" style="left:771px;top:900px;width:28px">Genua</b>
<b class="m" style="left:200px;top:914px;width:62px">Australopithecus</b><b class="m" style="left:264px;top:914px;width:79px">Homo ergaster/erectus</b><b class="m" style="left:426px;top:914px;width:76px">Bev.dichte 9 P/100km²</b><b class="m" style="left:513px;top:914px;width:47px">1. Übergang</b><b class="m" style="left:563px;top:914px;width:61px">Bev.-Dichte &gt;50</b><b class="p" style="left:625px;top:914px;width:31px">Assyrer</b><b class="p" style="left:659px;top:914px;width:36px">Griechen</b><b class="m" style="left:843px;top:902px;width:50px">2. Übergang</b>
<b class="m" style="left:181px;top:928px;width:35px">Primaten</b><b class="m d" style="left:355px;top:928px;width:63px">1 Mio. Menschen</b><b class="m d" style="left:453px;top:928px;width:64px">10 Mio. Menschen</b><b class="m d" style="left:632px;top:928px;width:72px">100 Mio. Menschen</b><b class="m d" style="left:706px;top:928px;width:65px">250 Mio. Menschen</b><b class="m d" style="left:811px;top:928px;width:69px">500 Mio. Menschen</b><b class="m d" style="left:883px;top:928px;width:65px">1 Mrd. Menschen</b>
<!-- Klima -->
<b class="k" style="left:263px;top:942px;width:51px">PLEISTOZÄN</b><b class="k" style="left:464px;top:942px;width:43px">HOLOZÄN</b><b class="k" style="left:509px;top:942px;width:51px">jüngere Dryas</b><b class="k" style="left:563px;top:942px;width:53px">Wüstenbildung</b><b class="k" style="left:862px;top:942px;width:60px">ANTHROPOZÄN</b><b class="k" style="left:1067px;top:942px;width:84px">UMWELTBELASTUNG</b><b class="k" style="left:1152px;top:942px;width:51px;height:24px;line-height:21px">KLIMACRASH</b><b class="k" style="left:1209px;top:942px;width:23px">Gifte</b><b class="k" style="left:1235px;top:942px;width:40px">Recycling</b>
<b class="k" style="left:286px;top:956px;width:102px">Eiszeiten + Zwischeneiszeiten</b><b class="k" style="left:800px;top:956px;width:54px">Kleine Eiszeit</b><b class="k" style="left:1077px;top:956px;width:74px">Rohstoff-Verbrauch</b>

<!-- overlay: curves, war arrows, legend, footer -->
<svg width="1370" height="1568" viewBox="0 0 1370 1568">
<g fill="none" stroke-width="4" stroke-linecap="round" stroke-linejoin="round">
<path stroke="#4cc3c8" d="M560,968 C600,962 640,958 700,952 C780,945 850,941 920,939 C980,938 1030,937 1065,928 C1100,918 1120,908 1134,893"/>
<path stroke="#4cc3c8" stroke-dasharray="20 11" d="M1143,876 C1160,840 1185,785 1201,738 C1225,660 1250,570 1275,480 C1285,445 1292,420 1300,395"/>
<path stroke="#c6d530" d="M600,970 C680,966 760,960 840,953 C880,948 905,925 930,905 C965,880 995,862 1014,837 C1030,810 1042,770 1049,735 C1060,670 1072,600 1090,530 C1110,460 1135,400 1165,360"/>
<path stroke="#c6d530" stroke-dasharray="14 9" d="M1165,360 C1190,320 1230,292 1270,287 C1290,285 1300,287 1306,290"/>
<path stroke="#0b3d80" d="M180,962 L600,962 C610,962 612,948 626,947 L700,944 C770,940 840,930 880,918 C905,910 920,902 935,893 C965,872 990,848 1005,823 C1018,800 1025,770 1029,735 C1036,680 1044,610 1055,550 C1068,480 1085,430 1110,395 C1135,360 1160,335 1185,318"/>
<path stroke="#0b3d80" stroke-dasharray="14 9" d="M1185,318 C1215,298 1250,283 1300,278"/>
</g>
<g stroke="#6b3fa0" fill="none">
<line x1="612" y1="803" x2="1265" y2="803" stroke-width="7" stroke-dasharray="18 10"/>
<line x1="612" y1="791" x2="1275" y2="791" stroke-width="2" stroke-dasharray="6 5"/>
<line x1="612" y1="815" x2="1275" y2="815" stroke-width="2" stroke-dasharray="6 5"/>
</g>
<g fill="#6b3fa0">
<polygon points="1260,793 1285,803 1260,813"/><polygon points="1273,787 1283,791 1273,795"/><polygon points="1273,811 1283,815 1273,819"/>
<rect x="1285" y="785" width="6" height="36"/><rect x="604" y="785" width="5" height="36"/>
</g>
<rect x="738" y="795" width="34" height="15" fill="#fff"/>
<text x="742" y="808" font-weight="bold" font-size="14" fill="#111">KRIEG</text>
<rect x="776" y="786" width="72" height="9" fill="#fff"/><rect x="776" y="808" width="64" height="9" fill="#fff"/>
<text x="778" y="794" font-weight="bold" font-size="8.5" fill="#111">PATRIARCHAT</text>
<text x="778" y="816" font-weight="bold" font-size="8.5" fill="#111">HIERARCHIE</text>

<g fill="#333" font-family="Liberation Sans, Arial, sans-serif">
<text x="97" y="1075" font-size="25" font-weight="bold" textLength="266" lengthAdjust="spacingAndGlyphs">Bisherige Entwicklung</text>
<text x="666" y="1075" font-size="25" font-weight="bold" textLength="256" lengthAdjust="spacingAndGlyphs">Künftige Entwicklung</text>
<g font-size="25">
<text x="147" y="1131" textLength="416" lengthAdjust="spacingAndGlyphs">Gesamtproduktion je Einwohner*in,</text>
<text x="147" y="1165" textLength="376" lengthAdjust="spacingAndGlyphs">hochentwickelte Industrieländer</text>
<text x="147" y="1199" textLength="425" lengthAdjust="spacingAndGlyphs">(als x-Faches des Existenzminimums)</text>
<text x="147" y="1238" textLength="416" lengthAdjust="spacingAndGlyphs">Gesamtproduktion je Einwohner*in,</text>
<text x="147" y="1272" textLength="197" lengthAdjust="spacingAndGlyphs">Subsahara Afrika</text>
<text x="147" y="1306" textLength="425" lengthAdjust="spacingAndGlyphs">(als x-Faches des Existenzminimums)</text>
<text x="150" y="1345" textLength="146" lengthAdjust="spacingAndGlyphs">Bevölkerung</text>
<text x="731" y="1131" textLength="416" lengthAdjust="spacingAndGlyphs">Gesamtproduktion je Einwohner*in,</text>
<text x="731" y="1165" textLength="376" lengthAdjust="spacingAndGlyphs">hochentwickelte Industrieländer</text>
<text x="731" y="1199" textLength="425" lengthAdjust="spacingAndGlyphs">(als x-Faches des Existenzminimums)</text>
<text x="731" y="1238" textLength="416" lengthAdjust="spacingAndGlyphs">Gesamtproduktion je Einwohner*in,</text>
<text x="731" y="1272" textLength="197" lengthAdjust="spacingAndGlyphs">Subsahara Afrika</text>
<text x="731" y="1306" textLength="425" lengthAdjust="spacingAndGlyphs">(als x-Faches des Existenzminimums)</text>
<text x="731" y="1345" textLength="146" lengthAdjust="spacingAndGlyphs">Bevölkerung</text>
</g>
<g font-size="20">
<text x="49" y="1403" textLength="1238" lengthAdjust="spacingAndGlyphs">Lesebeispiel: Im Jahr 2100 könnten in den hochentwickelten Industrieländern je Einwohner*in voraussichtlich etwa das 50-Fache</text>
<text x="49" y="1430" textLength="443" lengthAdjust="spacingAndGlyphs">des Existenzminimums erwirtschaftet werden.</text>
<text x="49" y="1464" textLength="715" lengthAdjust="spacingAndGlyphs">Anmerkung: ce =  Common Era (nach unserer Zeitrechnung / nach Christus)</text>
<text x="49" y="1497" textLength="1245" lengthAdjust="spacingAndGlyphs">Quelle: IGZA (2023). Matrix der Arbeit - Materialien zur Geschichte und Zukunft der Arbeit. 7 Bände mit 1.143 Grafiken, Bilder, Fotos</text>
<text x="49" y="1526" textLength="380" lengthAdjust="spacingAndGlyphs">und Tabellen, Dietz Verlag, Bonn.  © IAB</text>
</g>
</g>
<g stroke-width="4" fill="none">
<line x1="94" y1="1127" x2="134" y2="1127" stroke="#0b3d80"/>
<line x1="94" y1="1230" x2="134" y2="1230" stroke="#4cc3c8"/>
<line x1="94" y1="1337" x2="134" y2="1337" stroke="#c6d530"/>
<line x1="663" y1="1127" x2="708" y2="1127" stroke="#0b3d80" stroke-dasharray="13 8"/>
<line x1="663" y1="1230" x2="708" y2="1230" stroke="#4cc3c8" stroke-dasharray="13 8"/>
<line x1="663" y1="1337" x2="708" y2="1337" stroke="#c6d530" stroke-dasharray="13 8"/>
</g>
</svg>
</div></body></html>
